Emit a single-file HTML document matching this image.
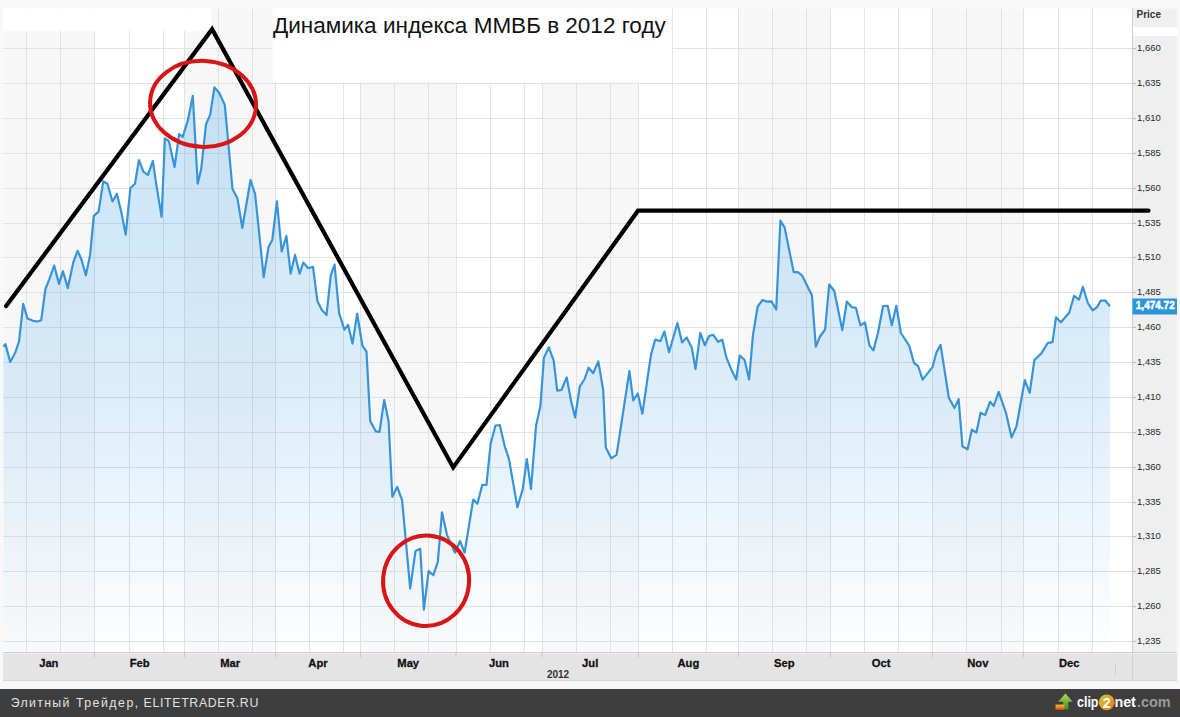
<!DOCTYPE html><html><head><meta charset="utf-8"><style>
html,body{margin:0;padding:0;background:#f8f8f8;}
body{width:1180px;height:717px;overflow:hidden;position:relative;font-family:"Liberation Sans",sans-serif;}
svg{position:absolute;left:0;top:0;display:block}
</style></head><body>
<svg width="1180" height="717" viewBox="0 0 1180 717">
<defs><linearGradient id="fg" x1="0" y1="80" x2="0" y2="652" gradientUnits="userSpaceOnUse"><stop offset="0" stop-color="#45a2e8" stop-opacity="0.30"/><stop offset="0.56" stop-color="#45a2e8" stop-opacity="0.18"/><stop offset="0.8" stop-color="#45a2e8" stop-opacity="0.08"/><stop offset="1" stop-color="#45a2e8" stop-opacity="0.01"/></linearGradient></defs>
<rect x="0" y="0" width="1180" height="717" fill="#f8f8f8"/>
<rect x="3" y="8.5" width="1129.5" height="644.0" fill="#ffffff"/>
<rect x="3.5" y="8.5" width="91" height="644.0" fill="#f7f7f7"/>
<rect x="184.5" y="8.5" width="91" height="644.0" fill="#f7f7f7"/>
<rect x="360.5" y="8.5" width="96" height="644.0" fill="#f7f7f7"/>
<rect x="542.5" y="8.5" width="96" height="644.0" fill="#f7f7f7"/>
<rect x="738.5" y="8.5" width="92" height="644.0" fill="#f7f7f7"/>
<rect x="932.5" y="8.5" width="91" height="644.0" fill="#f7f7f7"/>
<path d="M3.4,652.5 L3.4,346.6 L5.4,344.1 L10.2,361.9 L15.3,352.5 L19.0,341.5 L23.2,303.9 L27.5,318.6 L33.0,320.8 L37.6,321.5 L41.2,320.3 L45.4,289.0 L49.2,279.7 L54.2,265.6 L59.0,283.9 L63.0,271.2 L67.8,288.1 L73.2,262.7 L77.6,250.8 L81.7,260.2 L85.9,275.4 L90.1,254.9 L93.8,215.9 L98.6,211.7 L103.3,181.2 L107.4,183.7 L112.5,201.5 L116.9,193.9 L121.4,212.5 L125.7,234.6 L130.4,188.0 L135.0,183.7 L138.9,160.0 L143.5,171.9 L148.0,174.9 L152.8,161.0 L157.0,188.8 L161.6,216.8 L164.9,138.3 L168.8,141.1 L174.6,166.9 L179.1,134.2 L182.7,136.9 L187.9,120.2 L192.8,95.8 L197.7,183.7 L201.2,169.0 L206.0,124.4 L210.2,114.6 L214.4,87.4 L219.3,93.0 L224.8,104.9 L232.5,189.0 L237.5,198.6 L242.3,228.0 L250.5,180.2 L255.1,194.0 L263.7,277.1 L268.5,247.0 L272.3,240.0 L276.9,201.4 L281.7,251.4 L286.4,236.0 L290.6,273.7 L295.0,254.9 L299.6,273.7 L303.3,262.5 L308.2,268.2 L313.0,266.8 L317.4,301.1 L321.6,309.5 L326.5,315.1 L330.8,275.2 L334.6,264.5 L339.1,313.0 L344.4,329.7 L348.1,324.9 L352.5,343.6 L357.2,313.7 L362.4,345.7 L366.5,351.6 L370.2,421.0 L375.7,431.3 L379.5,432.0 L384.2,400.0 L388.6,421.5 L392.3,496.7 L397.2,487.0 L402.1,500.2 L410.2,588.7 L415.5,551.0 L420.2,548.8 L423.9,609.6 L428.6,571.1 L433.3,575.3 L437.8,561.9 L442.0,512.3 L447.0,535.1 L455.0,552.7 L460.0,541.0 L464.6,552.7 L473.2,499.5 L477.4,503.7 L482.3,484.9 L486.5,484.9 L490.6,443.7 L495.5,425.5 L499.8,425.0 L504.6,445.8 L509.0,459.1 L517.4,507.3 L522.8,489.0 L526.8,459.0 L531.0,489.0 L536.0,426.1 L540.4,406.0 L543.9,357.9 L548.8,347.4 L553.7,360.7 L557.2,390.7 L561.4,390.0 L566.7,377.4 L571.1,401.1 L575.1,417.5 L579.8,386.5 L584.4,379.5 L588.6,367.7 L593.2,373.2 L598.3,361.4 L603.2,390.0 L605.8,447.6 L611.2,458.3 L616.6,454.8 L629.4,371.1 L633.2,400.4 L637.8,393.5 L642.4,413.7 L646.4,385.8 L651.0,354.6 L655.2,339.6 L660.5,341.1 L664.4,331.4 L669.0,352.3 L673.2,337.7 L677.4,323.0 L682.1,342.5 L686.7,337.4 L691.9,348.1 L695.5,369.0 L700.3,332.8 L704.9,345.3 L709.0,336.0 L713.2,334.9 L718.1,341.8 L722.3,339.7 L726.5,357.9 L731.4,369.7 L736.2,379.5 L739.7,355.5 L744.6,360.0 L749.1,379.5 L753.0,334.9 L757.7,306.3 L762.5,300.0 L767.0,301.6 L771.5,301.4 L776.2,309.5 L780.4,220.5 L784.6,227.4 L793.7,272.1 L797.9,272.1 L802.1,275.6 L811.9,295.2 L815.8,346.7 L820.0,336.5 L825.1,329.5 L829.2,284.5 L834.3,291.0 L842.3,330.2 L846.8,301.5 L851.6,307.0 L856.0,308.1 L860.4,325.3 L865.0,322.5 L869.5,345.6 L873.4,350.4 L878.1,332.3 L883.1,306.0 L887.7,305.9 L891.8,325.3 L896.3,305.8 L900.9,333.0 L909.2,345.6 L914.0,363.0 L918.1,366.0 L922.6,379.6 L932.5,367.1 L936.4,352.5 L940.6,344.9 L948.8,397.7 L954.4,408.1 L958.6,399.1 L962.5,446.5 L967.6,449.3 L971.8,429.7 L976.4,432.5 L980.6,412.7 L985.1,415.1 L990.0,401.8 L993.7,406.0 L998.7,391.8 L1006.0,413.0 L1011.6,437.4 L1016.5,426.2 L1024.8,380.2 L1029.7,392.8 L1034.4,360.0 L1041.4,353.4 L1047.6,343.2 L1052.5,342.2 L1056.0,317.4 L1060.9,322.3 L1069.3,312.5 L1074.1,295.8 L1079.0,299.6 L1082.9,286.7 L1087.7,302.8 L1092.7,310.4 L1097.2,307.0 L1100.6,300.7 L1105.5,300.7 L1110.0,306.3 L1110.0,652.5 Z" fill="#ffffff" fill-opacity="0.35"/>
<path d="M3,48.5H1136 M3,83.5H1136 M3,118.5H1136 M3,153.5H1136 M3,188.5H1136 M3,223.5H1136 M3,257.5H1136 M3,292.5H1136 M3,327.5H1136 M3,362.5H1136 M3,397.5H1136 M3,432.5H1136 M3,467.5H1136 M3,502.5H1136 M3,536.5H1136 M3,571.5H1136 M3,606.5H1136 M3,641.5H1136 M26.5,8.5V652.5 M60.5,8.5V652.5 M129.5,8.5V652.5 M163.5,8.5V652.5 M218.5,8.5V652.5 M252.5,8.5V652.5 M309.5,8.5V652.5 M343.5,8.5V652.5 M394.5,8.5V652.5 M428.5,8.5V652.5 M490.5,8.5V652.5 M524.5,8.5V652.5 M576.5,8.5V652.5 M610.5,8.5V652.5 M672.5,8.5V652.5 M706.5,8.5V652.5 M772.5,8.5V652.5 M806.5,8.5V652.5 M864.5,8.5V652.5 M898.5,8.5V652.5 M966.5,8.5V652.5 M1001.5,8.5V652.5 M1058.5,8.5V652.5 M1092.5,8.5V652.5 M94.5,8.5V652.5 M184.5,8.5V652.5 M275.5,8.5V652.5 M360.5,8.5V652.5 M456.5,8.5V652.5 M542.5,8.5V652.5 M638.5,8.5V652.5 M738.5,8.5V652.5 M830.5,8.5V652.5 M932.5,8.5V652.5 M1023.5,8.5V652.5" stroke="#e2e2e2" stroke-width="1" fill="none"/>
<path d="M3.4,652.5 L3.4,346.6 L5.4,344.1 L10.2,361.9 L15.3,352.5 L19.0,341.5 L23.2,303.9 L27.5,318.6 L33.0,320.8 L37.6,321.5 L41.2,320.3 L45.4,289.0 L49.2,279.7 L54.2,265.6 L59.0,283.9 L63.0,271.2 L67.8,288.1 L73.2,262.7 L77.6,250.8 L81.7,260.2 L85.9,275.4 L90.1,254.9 L93.8,215.9 L98.6,211.7 L103.3,181.2 L107.4,183.7 L112.5,201.5 L116.9,193.9 L121.4,212.5 L125.7,234.6 L130.4,188.0 L135.0,183.7 L138.9,160.0 L143.5,171.9 L148.0,174.9 L152.8,161.0 L157.0,188.8 L161.6,216.8 L164.9,138.3 L168.8,141.1 L174.6,166.9 L179.1,134.2 L182.7,136.9 L187.9,120.2 L192.8,95.8 L197.7,183.7 L201.2,169.0 L206.0,124.4 L210.2,114.6 L214.4,87.4 L219.3,93.0 L224.8,104.9 L232.5,189.0 L237.5,198.6 L242.3,228.0 L250.5,180.2 L255.1,194.0 L263.7,277.1 L268.5,247.0 L272.3,240.0 L276.9,201.4 L281.7,251.4 L286.4,236.0 L290.6,273.7 L295.0,254.9 L299.6,273.7 L303.3,262.5 L308.2,268.2 L313.0,266.8 L317.4,301.1 L321.6,309.5 L326.5,315.1 L330.8,275.2 L334.6,264.5 L339.1,313.0 L344.4,329.7 L348.1,324.9 L352.5,343.6 L357.2,313.7 L362.4,345.7 L366.5,351.6 L370.2,421.0 L375.7,431.3 L379.5,432.0 L384.2,400.0 L388.6,421.5 L392.3,496.7 L397.2,487.0 L402.1,500.2 L410.2,588.7 L415.5,551.0 L420.2,548.8 L423.9,609.6 L428.6,571.1 L433.3,575.3 L437.8,561.9 L442.0,512.3 L447.0,535.1 L455.0,552.7 L460.0,541.0 L464.6,552.7 L473.2,499.5 L477.4,503.7 L482.3,484.9 L486.5,484.9 L490.6,443.7 L495.5,425.5 L499.8,425.0 L504.6,445.8 L509.0,459.1 L517.4,507.3 L522.8,489.0 L526.8,459.0 L531.0,489.0 L536.0,426.1 L540.4,406.0 L543.9,357.9 L548.8,347.4 L553.7,360.7 L557.2,390.7 L561.4,390.0 L566.7,377.4 L571.1,401.1 L575.1,417.5 L579.8,386.5 L584.4,379.5 L588.6,367.7 L593.2,373.2 L598.3,361.4 L603.2,390.0 L605.8,447.6 L611.2,458.3 L616.6,454.8 L629.4,371.1 L633.2,400.4 L637.8,393.5 L642.4,413.7 L646.4,385.8 L651.0,354.6 L655.2,339.6 L660.5,341.1 L664.4,331.4 L669.0,352.3 L673.2,337.7 L677.4,323.0 L682.1,342.5 L686.7,337.4 L691.9,348.1 L695.5,369.0 L700.3,332.8 L704.9,345.3 L709.0,336.0 L713.2,334.9 L718.1,341.8 L722.3,339.7 L726.5,357.9 L731.4,369.7 L736.2,379.5 L739.7,355.5 L744.6,360.0 L749.1,379.5 L753.0,334.9 L757.7,306.3 L762.5,300.0 L767.0,301.6 L771.5,301.4 L776.2,309.5 L780.4,220.5 L784.6,227.4 L793.7,272.1 L797.9,272.1 L802.1,275.6 L811.9,295.2 L815.8,346.7 L820.0,336.5 L825.1,329.5 L829.2,284.5 L834.3,291.0 L842.3,330.2 L846.8,301.5 L851.6,307.0 L856.0,308.1 L860.4,325.3 L865.0,322.5 L869.5,345.6 L873.4,350.4 L878.1,332.3 L883.1,306.0 L887.7,305.9 L891.8,325.3 L896.3,305.8 L900.9,333.0 L909.2,345.6 L914.0,363.0 L918.1,366.0 L922.6,379.6 L932.5,367.1 L936.4,352.5 L940.6,344.9 L948.8,397.7 L954.4,408.1 L958.6,399.1 L962.5,446.5 L967.6,449.3 L971.8,429.7 L976.4,432.5 L980.6,412.7 L985.1,415.1 L990.0,401.8 L993.7,406.0 L998.7,391.8 L1006.0,413.0 L1011.6,437.4 L1016.5,426.2 L1024.8,380.2 L1029.7,392.8 L1034.4,360.0 L1041.4,353.4 L1047.6,343.2 L1052.5,342.2 L1056.0,317.4 L1060.9,322.3 L1069.3,312.5 L1074.1,295.8 L1079.0,299.6 L1082.9,286.7 L1087.7,302.8 L1092.7,310.4 L1097.2,307.0 L1100.6,300.7 L1105.5,300.7 L1110.0,306.3 L1110.0,652.5 Z" fill="url(#fg)"/>
<path d="M3.4,346.6 L5.4,344.1 L10.2,361.9 L15.3,352.5 L19.0,341.5 L23.2,303.9 L27.5,318.6 L33.0,320.8 L37.6,321.5 L41.2,320.3 L45.4,289.0 L49.2,279.7 L54.2,265.6 L59.0,283.9 L63.0,271.2 L67.8,288.1 L73.2,262.7 L77.6,250.8 L81.7,260.2 L85.9,275.4 L90.1,254.9 L93.8,215.9 L98.6,211.7 L103.3,181.2 L107.4,183.7 L112.5,201.5 L116.9,193.9 L121.4,212.5 L125.7,234.6 L130.4,188.0 L135.0,183.7 L138.9,160.0 L143.5,171.9 L148.0,174.9 L152.8,161.0 L157.0,188.8 L161.6,216.8 L164.9,138.3 L168.8,141.1 L174.6,166.9 L179.1,134.2 L182.7,136.9 L187.9,120.2 L192.8,95.8 L197.7,183.7 L201.2,169.0 L206.0,124.4 L210.2,114.6 L214.4,87.4 L219.3,93.0 L224.8,104.9 L232.5,189.0 L237.5,198.6 L242.3,228.0 L250.5,180.2 L255.1,194.0 L263.7,277.1 L268.5,247.0 L272.3,240.0 L276.9,201.4 L281.7,251.4 L286.4,236.0 L290.6,273.7 L295.0,254.9 L299.6,273.7 L303.3,262.5 L308.2,268.2 L313.0,266.8 L317.4,301.1 L321.6,309.5 L326.5,315.1 L330.8,275.2 L334.6,264.5 L339.1,313.0 L344.4,329.7 L348.1,324.9 L352.5,343.6 L357.2,313.7 L362.4,345.7 L366.5,351.6 L370.2,421.0 L375.7,431.3 L379.5,432.0 L384.2,400.0 L388.6,421.5 L392.3,496.7 L397.2,487.0 L402.1,500.2 L410.2,588.7 L415.5,551.0 L420.2,548.8 L423.9,609.6 L428.6,571.1 L433.3,575.3 L437.8,561.9 L442.0,512.3 L447.0,535.1 L455.0,552.7 L460.0,541.0 L464.6,552.7 L473.2,499.5 L477.4,503.7 L482.3,484.9 L486.5,484.9 L490.6,443.7 L495.5,425.5 L499.8,425.0 L504.6,445.8 L509.0,459.1 L517.4,507.3 L522.8,489.0 L526.8,459.0 L531.0,489.0 L536.0,426.1 L540.4,406.0 L543.9,357.9 L548.8,347.4 L553.7,360.7 L557.2,390.7 L561.4,390.0 L566.7,377.4 L571.1,401.1 L575.1,417.5 L579.8,386.5 L584.4,379.5 L588.6,367.7 L593.2,373.2 L598.3,361.4 L603.2,390.0 L605.8,447.6 L611.2,458.3 L616.6,454.8 L629.4,371.1 L633.2,400.4 L637.8,393.5 L642.4,413.7 L646.4,385.8 L651.0,354.6 L655.2,339.6 L660.5,341.1 L664.4,331.4 L669.0,352.3 L673.2,337.7 L677.4,323.0 L682.1,342.5 L686.7,337.4 L691.9,348.1 L695.5,369.0 L700.3,332.8 L704.9,345.3 L709.0,336.0 L713.2,334.9 L718.1,341.8 L722.3,339.7 L726.5,357.9 L731.4,369.7 L736.2,379.5 L739.7,355.5 L744.6,360.0 L749.1,379.5 L753.0,334.9 L757.7,306.3 L762.5,300.0 L767.0,301.6 L771.5,301.4 L776.2,309.5 L780.4,220.5 L784.6,227.4 L793.7,272.1 L797.9,272.1 L802.1,275.6 L811.9,295.2 L815.8,346.7 L820.0,336.5 L825.1,329.5 L829.2,284.5 L834.3,291.0 L842.3,330.2 L846.8,301.5 L851.6,307.0 L856.0,308.1 L860.4,325.3 L865.0,322.5 L869.5,345.6 L873.4,350.4 L878.1,332.3 L883.1,306.0 L887.7,305.9 L891.8,325.3 L896.3,305.8 L900.9,333.0 L909.2,345.6 L914.0,363.0 L918.1,366.0 L922.6,379.6 L932.5,367.1 L936.4,352.5 L940.6,344.9 L948.8,397.7 L954.4,408.1 L958.6,399.1 L962.5,446.5 L967.6,449.3 L971.8,429.7 L976.4,432.5 L980.6,412.7 L985.1,415.1 L990.0,401.8 L993.7,406.0 L998.7,391.8 L1006.0,413.0 L1011.6,437.4 L1016.5,426.2 L1024.8,380.2 L1029.7,392.8 L1034.4,360.0 L1041.4,353.4 L1047.6,343.2 L1052.5,342.2 L1056.0,317.4 L1060.9,322.3 L1069.3,312.5 L1074.1,295.8 L1079.0,299.6 L1082.9,286.7 L1087.7,302.8 L1092.7,310.4 L1097.2,307.0 L1100.6,300.7 L1105.5,300.7 L1110.0,306.3" stroke="#3894d8" stroke-width="2.2" fill="none" stroke-linejoin="round"/>
<rect x="1132.5" y="8.5" width="44.5" height="663.5" fill="#efefef"/>
<rect x="1133" y="27" width="44" height="9" fill="#ffffff"/>
<path d="M1132.5,8.5V681" stroke="#cfcfcf" stroke-width="1"/>
<text x="1136.5" y="18" font-size="10" font-weight="bold" fill="#333">Price</text>
<text x="1137" y="50.7" font-size="9.5" fill="#2a2a2a">1,660</text>
<path d="M1132.5,48.50H1136" stroke="#bbb" stroke-width="1"/>
<text x="1137" y="85.7" font-size="9.5" fill="#2a2a2a">1,635</text>
<path d="M1132.5,83.50H1136" stroke="#bbb" stroke-width="1"/>
<text x="1137" y="120.7" font-size="9.5" fill="#2a2a2a">1,610</text>
<path d="M1132.5,118.50H1136" stroke="#bbb" stroke-width="1"/>
<text x="1137" y="155.7" font-size="9.5" fill="#2a2a2a">1,585</text>
<path d="M1132.5,153.50H1136" stroke="#bbb" stroke-width="1"/>
<text x="1137" y="190.7" font-size="9.5" fill="#2a2a2a">1,560</text>
<path d="M1132.5,188.50H1136" stroke="#bbb" stroke-width="1"/>
<text x="1137" y="225.7" font-size="9.5" fill="#2a2a2a">1,535</text>
<path d="M1132.5,223.50H1136" stroke="#bbb" stroke-width="1"/>
<text x="1137" y="259.7" font-size="9.5" fill="#2a2a2a">1,510</text>
<path d="M1132.5,257.50H1136" stroke="#bbb" stroke-width="1"/>
<text x="1137" y="294.7" font-size="9.5" fill="#2a2a2a">1,485</text>
<path d="M1132.5,292.50H1136" stroke="#bbb" stroke-width="1"/>
<text x="1137" y="329.7" font-size="9.5" fill="#2a2a2a">1,460</text>
<path d="M1132.5,327.50H1136" stroke="#bbb" stroke-width="1"/>
<text x="1137" y="364.7" font-size="9.5" fill="#2a2a2a">1,435</text>
<path d="M1132.5,362.50H1136" stroke="#bbb" stroke-width="1"/>
<text x="1137" y="399.7" font-size="9.5" fill="#2a2a2a">1,410</text>
<path d="M1132.5,397.50H1136" stroke="#bbb" stroke-width="1"/>
<text x="1137" y="434.7" font-size="9.5" fill="#2a2a2a">1,385</text>
<path d="M1132.5,432.50H1136" stroke="#bbb" stroke-width="1"/>
<text x="1137" y="469.7" font-size="9.5" fill="#2a2a2a">1,360</text>
<path d="M1132.5,467.50H1136" stroke="#bbb" stroke-width="1"/>
<text x="1137" y="504.7" font-size="9.5" fill="#2a2a2a">1,335</text>
<path d="M1132.5,502.50H1136" stroke="#bbb" stroke-width="1"/>
<text x="1137" y="538.7" font-size="9.5" fill="#2a2a2a">1,310</text>
<path d="M1132.5,536.50H1136" stroke="#bbb" stroke-width="1"/>
<text x="1137" y="573.7" font-size="9.5" fill="#2a2a2a">1,285</text>
<path d="M1132.5,571.50H1136" stroke="#bbb" stroke-width="1"/>
<text x="1137" y="608.7" font-size="9.5" fill="#2a2a2a">1,260</text>
<path d="M1132.5,606.50H1136" stroke="#bbb" stroke-width="1"/>
<text x="1137" y="643.7" font-size="9.5" fill="#2a2a2a">1,235</text>
<path d="M1132.5,641.50H1136" stroke="#bbb" stroke-width="1"/>
<rect x="1132.5" y="298.5" width="44.5" height="16" fill="#2996dc"/>
<text x="1135.8" y="308.9" font-size="10" font-weight="bold" fill="#fff" stroke="#fff" stroke-width="0.45" style="font-weight:700">1,474.72</text>
<rect x="3" y="652.5" width="1174" height="28.0" fill="#e4e4e4"/>
<path d="M3,652.5H1177" stroke="#cfcfcf" stroke-width="1"/>
<path d="M3,653.5H1177" stroke="#eeeeee" stroke-width="1"/>
<path d="M3,680.5H1177" stroke="#d6d6d6" stroke-width="1"/>
<path d="M94.5,652.5V657 M184.6,652.5V657 M275.7,652.5V657 M360.4,652.5V657 M456,652.5V657 M542,652.5V657 M638.5,652.5V657 M738.3,652.5V657 M830.3,652.5V657 M932.2,652.5V657 M1023.4,652.5V657" stroke="#c4c4c4" stroke-width="1"/>
<path d="M1115.5,665V675" stroke="#cccccc" stroke-width="1"/>
<path d="M1132.5,652V680" stroke="#d2d2d2" stroke-width="1"/>
<text x="48.8" y="666.7" font-size="11.2" font-weight="bold" fill="#111" stroke="#111" stroke-width="0.3" text-anchor="middle">Jan</text>
<text x="139.6" y="666.7" font-size="11.2" font-weight="bold" fill="#111" stroke="#111" stroke-width="0.3" text-anchor="middle">Feb</text>
<text x="230.1" y="666.7" font-size="11.2" font-weight="bold" fill="#111" stroke="#111" stroke-width="0.3" text-anchor="middle">Mar</text>
<text x="318.0" y="666.7" font-size="11.2" font-weight="bold" fill="#111" stroke="#111" stroke-width="0.3" text-anchor="middle">Apr</text>
<text x="408.2" y="666.7" font-size="11.2" font-weight="bold" fill="#111" stroke="#111" stroke-width="0.3" text-anchor="middle">May</text>
<text x="499.0" y="666.7" font-size="11.2" font-weight="bold" fill="#111" stroke="#111" stroke-width="0.3" text-anchor="middle">Jun</text>
<text x="590.2" y="666.7" font-size="11.2" font-weight="bold" fill="#111" stroke="#111" stroke-width="0.3" text-anchor="middle">Jul</text>
<text x="688.4" y="666.7" font-size="11.2" font-weight="bold" fill="#111" stroke="#111" stroke-width="0.3" text-anchor="middle">Aug</text>
<text x="784.3" y="666.7" font-size="11.2" font-weight="bold" fill="#111" stroke="#111" stroke-width="0.3" text-anchor="middle">Sep</text>
<text x="881.2" y="666.7" font-size="11.2" font-weight="bold" fill="#111" stroke="#111" stroke-width="0.3" text-anchor="middle">Oct</text>
<text x="977.8" y="666.7" font-size="11.2" font-weight="bold" fill="#111" stroke="#111" stroke-width="0.3" text-anchor="middle">Nov</text>
<text x="1069.2" y="666.7" font-size="11.2" font-weight="bold" fill="#111" stroke="#111" stroke-width="0.3" text-anchor="middle">Dec</text>
<text x="558" y="677.5" font-size="10" font-weight="bold" fill="#333" text-anchor="middle">2012</text>
<rect x="3" y="8.5" width="208.5" height="22" fill="#ffffff"/>
<rect x="272.5" y="8.5" width="399" height="74" fill="#ffffff"/>
<text x="273" y="33.3" font-size="22.5" fill="#111">Динамика индекса ММВБ в 2012 году</text>
<path d="M6.1,306 L212.1,29.2 L453.2,467.4 L638,210.7 L1148.5,210.7" stroke="#000" stroke-width="4.2" fill="none" stroke-linecap="round" stroke-linejoin="miter" stroke-miterlimit="10"/>
<ellipse cx="203.05" cy="103.9" rx="53.0" ry="43.0" transform="rotate(3 203.05 103.9)" stroke="#d81616" stroke-width="4" fill="none"/>
<ellipse cx="426.1" cy="580.8" rx="43.0" ry="45.3" transform="rotate(5 426.1 580.8)" stroke="#d81616" stroke-width="4" fill="none"/>
<rect x="0" y="689" width="1180" height="28" fill="#3e3e3e"/>
<g font-size="12.3" fill="#e2e2e2"><text x="10.7" y="707" textLength="58.7" lengthAdjust="spacing">Элитный</text><text x="75.9" y="707" textLength="62.3" lengthAdjust="spacing">Трейдер,</text><text x="143.6" y="707" textLength="114.7" lengthAdjust="spacing">ELITETRADER.RU</text></g>
<defs><linearGradient id="ag" x1="0" y1="0" x2="0" y2="1"><stop offset="0" stop-color="#b3dc55"/><stop offset="1" stop-color="#3f8f1a"/></linearGradient><linearGradient id="og" x1="0" y1="0" x2="0" y2="1"><stop offset="0" stop-color="#f7c040"/><stop offset="1" stop-color="#e0461a"/></linearGradient><linearGradient id="cg" x1="0" y1="0" x2="1" y2="1"><stop offset="0" stop-color="#a8d040"/><stop offset="0.5" stop-color="#f0a020"/><stop offset="1" stop-color="#e86a20"/></linearGradient></defs>
<g><path d="M1065.4,693.4 L1072.8,701.8 L1068.3,701.8 L1068.3,709.6 L1063.2,709.6 L1063.2,701.8 L1058.1,701.8 Z" fill="url(#ag)"/><rect x="1055.5" y="704.6" width="8.8" height="5.2" fill="url(#og)"/><text x="1077" y="706.6" font-size="14" font-weight="bold" fill="#fff" textLength="21.5" lengthAdjust="spacingAndGlyphs">clip</text><circle cx="1106.7" cy="702.3" r="7.9" fill="url(#cg)"/><text x="1106.9" y="707.6" font-size="14.5" font-weight="bold" fill="#fff" text-anchor="middle">2</text><text x="1114.4" y="706.6" font-size="14" font-weight="bold" fill="#fff" textLength="21.5" lengthAdjust="spacingAndGlyphs">net</text><text x="1137" y="706.6" font-size="14" font-weight="bold" fill="#9a9a9a" textLength="33.6" lengthAdjust="spacingAndGlyphs">.com</text></g>
</svg></body></html>
